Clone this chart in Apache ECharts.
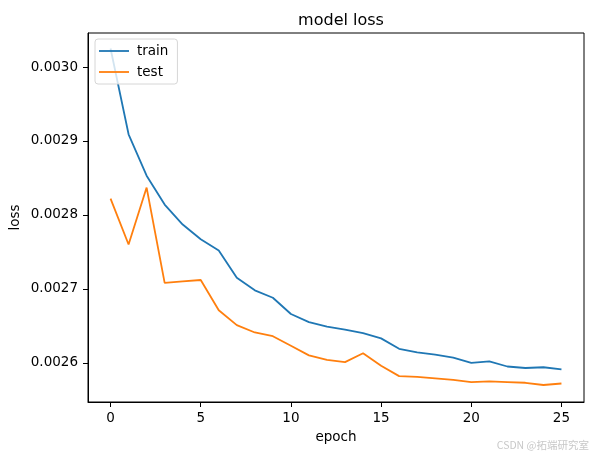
<!DOCTYPE html>
<html>
<head>
<meta charset="utf-8">
<script src="https://cdn.jsdelivr.net/npm/echarts@6/dist/echarts.min.js"></script>
<style>html,body{margin:0;padding:0;background:#fff}#c{width:593px;height:455px}</style>
</head>
<body>
<div id="c"></div>
<script>
const epochs = [0,1,2,3,4,5,6,7,8,9,10,11,12,13,14,15,16,17,18,19,20,21,22,23,24,25];
const trainLoss = [0.003025,0.002909,0.002853,0.002814,0.002787,0.002767,0.002752,0.002715,0.002698,0.002688,0.002666,0.002655,0.002649,0.002645,0.002640,0.002633,0.002619,0.002614,0.002611,0.002607,0.002600,0.002602,0.002595,0.002593,0.002594,0.002591];
const testLoss = [0.002822,0.002760,0.002837,0.002708,0.002710,0.002712,0.002671,0.002651,0.002641,0.002636,0.002623,0.002610,0.002604,0.002601,0.002613,0.002596,0.002582,0.002581,0.002579,0.002577,0.002574,0.002575,0.002574,0.002573,0.002570,0.002572];
const xTicks = [0,5,10,15,20,25];
const yTicks = [0.0026,0.0027,0.0028,0.0029,0.0030];

const font = 'DejaVu Sans';
const chart = echarts.init(document.getElementById('c'), null, {renderer:'canvas'});
chart.setOption({
  animation:false,
  backgroundColor:'#fff',
  title:{text:'model loss', left:336, top:8, textAlign:'center',
    textStyle:{fontFamily:font, fontSize:16, fontWeight:'normal', color:'#000'}},
  grid:{left:88, right:9, top:33, bottom:53, show:true, borderColor:'#000', borderWidth:1,
    containLabel:false, outerBoundsMode:'none'},
  legend:{left:95, top:39, orient:'vertical', itemWidth:30, itemHeight:12, itemGap:7,
    padding:[5,9,5,4], borderColor:'#d6d6d6', borderWidth:1, borderRadius:3, backgroundColor:'rgba(255,255,255,0.8)',
    textStyle:{fontFamily:font, fontSize:13.5, color:'#000', padding:[0,0,0,3]},
    data:[{name:'train', icon:'path://M0,0 L30,0 L30,1.8 L0,1.8 Z'},{name:'test', icon:'path://M0,0 L30,0 L30,1.8 L0,1.8 Z'}]},
  xAxis:{type:'value', min:-1.25, max:26.25,
    name:'epoch', nameLocation:'middle', nameGap:28, nameMoveOverlap:false,
    nameTextStyle:{fontFamily:font, fontSize:13.5, color:'#000'},
    axisLine:{show:true, onZero:false, lineStyle:{color:'#000', width:1}},
    axisTick:{show:true, inside:false, length:5, customValues:xTicks, lineStyle:{color:'#000'}},
    axisLabel:{customValues:xTicks, margin:9, fontFamily:font, fontSize:13.5, color:'#000',
      formatter:v=>String(Math.round(v))},
    splitLine:{show:false}},
  yAxis:{type:'value', min:0.002547, max:0.003046,
    name:'loss', nameLocation:'middle', nameGap:66, nameMoveOverlap:false,
    nameTextStyle:{fontFamily:font, fontSize:13.5, color:'#000'},
    axisLine:{show:true, onZero:false, lineStyle:{color:'#000', width:1}},
    axisTick:{show:true, inside:false, length:5, customValues:yTicks, lineStyle:{color:'#000'}},
    axisLabel:{customValues:yTicks, margin:10, fontFamily:font, fontSize:13.5, color:'#000',
      formatter:v=>v.toFixed(4)},
    splitLine:{show:false}},
  series:[
    {name:'train', type:'line', data:epochs.map((e,i)=>[e,trainLoss[i]]), symbol:'none', showSymbol:false,
      lineStyle:{color:'#1f77b4', width:1.8}, itemStyle:{color:'#1f77b4'}},
    {name:'test', type:'line', data:epochs.map((e,i)=>[e,testLoss[i]]), symbol:'none', showSymbol:false,
      lineStyle:{color:'#ff7f0e', width:1.8}, itemStyle:{color:'#ff7f0e'}}
  ],
  graphic:[{type:'text', right:4, bottom:5, style:{text:'CSDN @拓端研究室', fill:'#c8c8c8',
    font:'10.5px "Noto Sans CJK SC", "DejaVu Sans"'}}]
});
</script>
</body>
</html>
